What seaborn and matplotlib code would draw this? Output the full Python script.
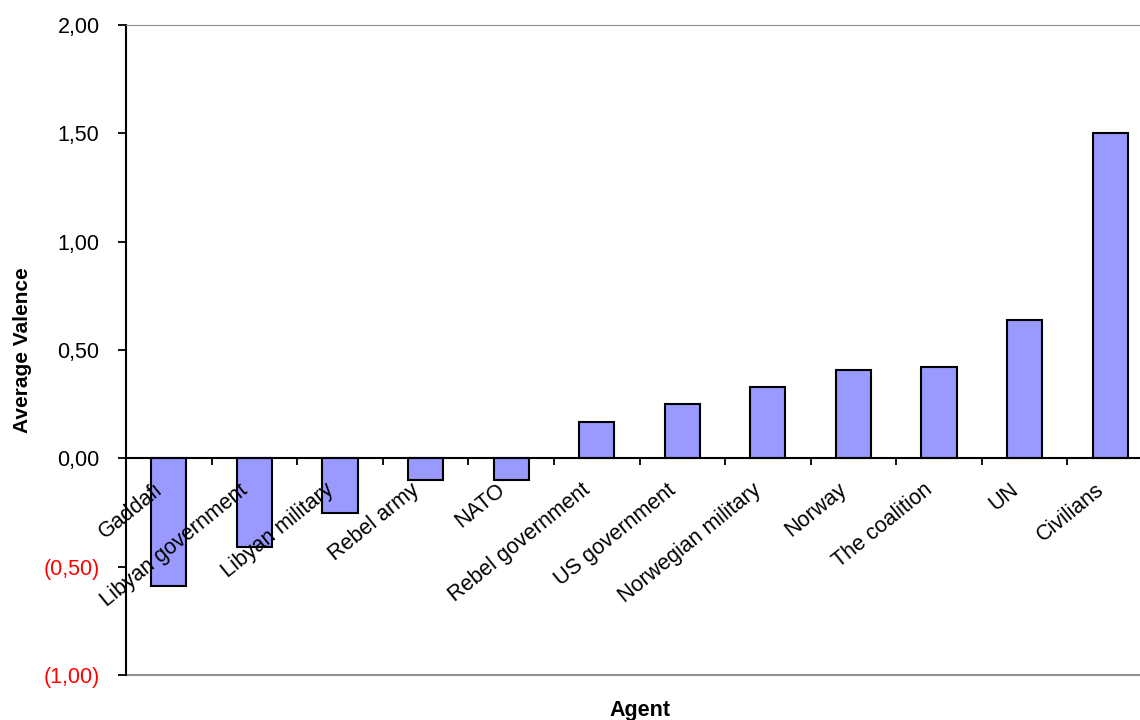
import matplotlib
matplotlib.use("Agg")
import matplotlib.pyplot as plt
import matplotlib.transforms as mtransforms
import seaborn as sns
import numpy as np
import pandas as pd

# Average valence per agent
agents = ["Gaddafi", "Libyan government", "Libyan military", "Rebel army", "NATO",
          "Rebel government", "US government", "Norwegian military", "Norway",
          "The coalition", "UN", "Civilians"]
valence = [-0.59, -0.41, -0.25, -0.10, -0.10, 0.17, 0.25, 0.33, 0.41, 0.42, 0.64, 1.50]
y_ticks = [-1.0, -0.5, 0.0, 0.5, 1.0, 1.5, 2.0]
y_tick_labels = ["(1,00)", "(0,50)", "0,00", "0,50", "1,00", "1,50", "2,00"]

df = pd.DataFrame({"Agent": agents, "Valence": valence})

sns.set_style("white")
plt.rcParams["font.family"] = ["Liberation Sans", "DejaVu Sans"]
plt.rcParams["text.color"] = "black"
plt.rcParams["axes.labelcolor"] = "black"
plt.rcParams["xtick.color"] = "black"
plt.rcParams["ytick.color"] = "black"

fig = plt.figure(figsize=(11.4, 7.2), dpi=100)
ax = fig.add_axes([126 / 1140, 45 / 720, 1027 / 1140, 650 / 720])

sns.barplot(data=df, x="Agent", y="Valence", color="#9999FF", saturation=1,
            edgecolor="black", linewidth=1.5, width=0.41, ax=ax)

ax.set_xlim(-0.5, len(agents) - 0.5)
ax.set_ylim(-1.0, 2.0)
ax.set_axisbelow(False)  # category labels are drawn over the bars

# y axis
ax.set_yticks(y_ticks)
ax.set_yticklabels(y_tick_labels, fontsize=15.5)
for lbl, v in zip(ax.get_yticklabels(), y_ticks):
    lbl.set_color("red" if v < 0 else "black")
ax.tick_params(axis="y", direction="out", length=6, width=1.3, color="black",
               pad=13, left=True)

# x axis sits on zero, tick marks between categories
ax.spines["bottom"].set_position(("data", 0))
ax.spines["bottom"].set_color("black")
ax.spines["bottom"].set_linewidth(1.5)
ax.spines["left"].set_color("black")
ax.spines["left"].set_linewidth(1.5)
ax.spines["top"].set_color("#909090")
ax.spines["right"].set_color("#909090")
ax.axhline(-1.0, color="#909090", linewidth=1.5, clip_on=False)

ax.set_xticks(np.arange(len(agents)))
ax.set_xticklabels(agents, fontsize=15.5, rotation=39, ha="right", va="center",
                   rotation_mode="anchor", color="black")
ax.tick_params(axis="x", which="major", length=0, pad=21, bottom=True)
shift = mtransforms.ScaledTranslation(-0.09, 0, fig.dpi_scale_trans)
for lbl in ax.get_xticklabels():
    lbl.set_transform(lbl.get_transform() + shift)
ax.set_xticks(np.arange(-0.5, len(agents), 1.0), minor=True)
ax.tick_params(axis="x", which="minor", direction="out", length=5, width=1.3,
               color="black", bottom=True)

ax.set_xlabel("Agent", fontsize=15.5, fontweight="bold")
ax.xaxis.set_label_coords(0.5, -0.038)
ax.set_ylabel("Average Valence", fontsize=15, fontweight="bold")
ax.yaxis.set_label_coords(-0.101, 0.5)
ax.yaxis.label.set_va("center")

fig.savefig("out.png", dpi=100)
